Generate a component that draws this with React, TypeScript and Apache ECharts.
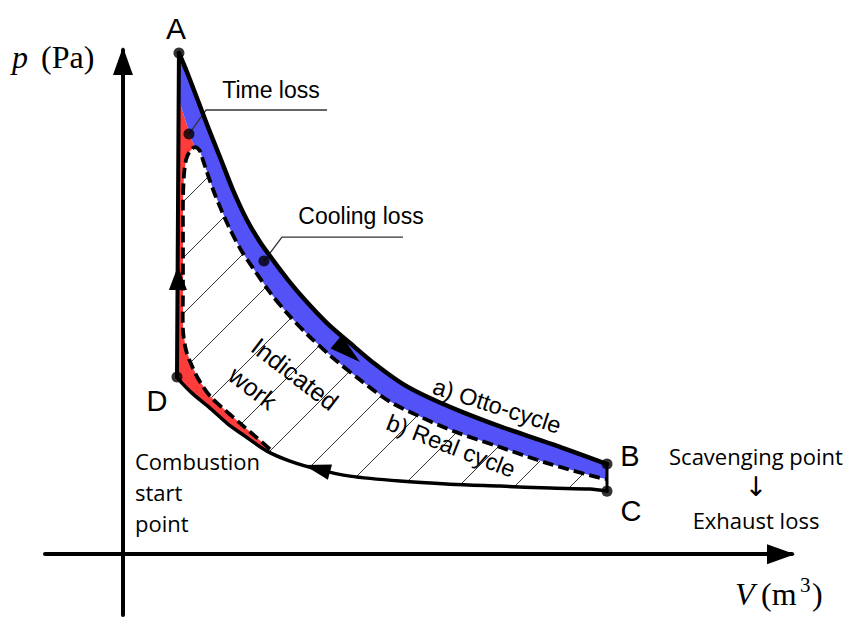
import React, { useEffect, useRef } from "react";
import * as echarts from "echarts";

// ---- Otto cycle: expansion A -> B (outer curve) ----
const ottoExpV = [8.33, 9.52, 11.01, 12.65, 14.43, 16.37, 18.45, 20.39, 22.32, 24.7, 27.23, 30.36, 33.78, 37.5, 41.67, 45.98, 50.89, 56.4, 63.84, 72.02];
const ottoExpP = [98.8, 95.05, 89.92, 84.2, 78.29, 71.78, 65.86, 61.53, 57.98, 53.84, 49.89, 45.55, 41.61, 37.47, 33.52, 30.57, 27.8, 25.04, 21.69, 17.75];

// ---- Otto cycle: compression (listed from D to C) ----
const compV = [8.04, 8.78, 10.27, 12.95, 15.63, 18.15, 21.43, 24.85, 28.87, 33.78, 41.22, 48.66, 56.1, 63.54, 69.49, 72.02];
const compP = [34.9, 33.72, 31.75, 28.79, 25.64, 23.27, 20.31, 18.34, 16.76, 15.38, 14.4, 13.8, 13.41, 13.02, 12.82, 12.42];
const COMP_MERGE = 6; // index where the real cycle joins the compression line

// ---- Real cycle (dashed): from the join near D, up, over the top, down to B' ----
const realV = [21.88, 19.64, 17.41, 15.18, 12.95, 11.31, 10.27, 9.38, 8.93, 8.93, 8.93, 8.93, 9.08, 9.38, 9.97, 10.71, 11.46, 11.9, 13.54, 15.63, 17.56, 19.35, 21.73, 24.4, 27.53, 31.1, 35.12, 39.58, 44.35, 49.55, 55.65, 63.1, 70.54, 72.02];
const realP = [20.71, 23.27, 25.83, 28.4, 31.16, 34.31, 37.07, 40.23, 44.17, 52.06, 61.92, 69.81, 74.74, 77.7, 79.47, 80.26, 79.47, 77.7, 71.39, 64.88, 59.95, 56.4, 51.86, 47.53, 43.19, 38.85, 34.51, 30.17, 27.02, 24.06, 21.3, 17.95, 15.18, 14.79];
const REAL_TOP = 15;

// ---- Time loss / cooling loss boundary (from real-curve top up to the isochore) ----
const tlBoundV = [10.12, 9.38, 8.33, 8.33];
const tlBoundP = [82.03, 85.19, 89.53, 95.84];

// ---- Isochores ----
const isoDAV = [8.04, 8.33];
const isoDAP = [34.9, 98.8];
const isoBCV = [72.02, 72.02];
const isoBCP = [17.75, 12.42];

// ---- State points ----
const pointNames = ["A", "B", "C", "D"];
const pointV = [8.33, 72.02, 72.02, 8.04];
const pointP = [98.8, 17.75, 12.42, 34.9];

// ---- Loss marker points and leaders ----
const lossV = [9.82, 20.98];
const lossP = [82.82, 57.78];
const timeLeaderV = [9.82, 12.35, 30.36];
const timeLeaderP = [82.82, 87.56, 87.56];
const coolLeaderV = [20.98, 23.66, 41.67];
const coolLeaderP = [57.78, 62.51, 62.51];

// ---- Direction arrows (tail -> tip) ----
const arrowTailV = [31.7, 30.8, 8.18];
const arrowTailP = [41.81, 16.17, 52.06];
const arrowTipV = [35.27, 26.93, 8.18];
const arrowTipP = [37.86, 17.55, 56.79];

const BLUE = "#5252F7";
const RED = "#FF3C3C";

function hatchSegments(poly: number[][], c0: number, step: number) {
  const sums = poly.map((p) => p[0] + p[1]);
  const minC = Math.min(...sums);
  const maxC = Math.max(...sums);
  const segs: number[][][] = [];
  const k0 = Math.ceil((minC - c0) / step);
  for (let c = c0 + k0 * step; c < maxC; c += step) {
    const hits: number[][] = [];
    for (let i = 0; i < poly.length; i++) {
      const a = poly[i];
      const b = poly[(i + 1) % poly.length];
      const fa = a[0] + a[1] - c;
      const fb = b[0] + b[1] - c;
      if (fa < 0 !== fb < 0) {
        const t = fa / (fa - fb);
        hits.push([a[0] + t * (b[0] - a[0]), a[1] + t * (b[1] - a[1])]);
      }
    }
    hits.sort((p, q) => p[0] - q[0]);
    for (let j = 0; j + 1 < hits.length; j += 2) segs.push([hits[j], hits[j + 1]]);
  }
  return segs;
}

export default function App() {
  const ref = useRef<HTMLDivElement>(null);
  useEffect(() => {
    const chart = echarts.init(ref.current!, null, { renderer: "svg" });
    const pts = (api: any, vs: number[], ps: number[]) => vs.map((v, i) => api.coord([v, ps[i]]));
    const pick = (api: any, vs: number[], ps: number[], idx: number[]) => idx.map((i) => api.coord([vs[i], ps[i]]));
    const range = (a: number, b: number) => {
      const r: number[] = [];
      if (a <= b) for (let i = a; i <= b; i++) r.push(i);
      else for (let i = a; i >= b; i--) r.push(i);
      return r;
    };

    const fillsRender = (_p: any, api: any) => {
      const otto = pts(api, ottoExpV, ottoExpP);
      const realBack = pick(api, realV, realP, range(realV.length - 1, REAL_TOP));
      const bound = pts(api, tlBoundV, tlBoundP);
      const blue = [...otto, ...realBack, ...bound];
      const redTop = pick(api, tlBoundV, tlBoundP, [2, 1, 0]);
      const redReal = pick(api, realV, realP, range(REAL_TOP, 0));
      const redComp = pick(api, compV, compP, range(COMP_MERGE, 0));
      const red = [...redTop, ...redReal, ...redComp];
      return {
        type: "group",
        children: [
          { type: "polygon", shape: { points: red }, style: { fill: RED } },
          { type: "polygon", shape: { points: blue }, style: { fill: BLUE } },
        ],
      };
    };

    const hatchRender = (_p: any, api: any) => {
      const real = pts(api, realV, realP);
      const comp = pick(api, compV, compP, range(compV.length - 1, COMP_MERGE));
      const poly = [...real, ...comp];
      const segs = hatchSegments(poly, 385, 56);
      return {
        type: "group",
        children: segs.map((s) => ({
          type: "line",
          shape: { x1: s[0][0], y1: s[0][1], x2: s[1][0], y2: s[1][1] },
          style: { stroke: "#333", lineWidth: 1 },
        })),
      };
    };

    const line = (points: number[][], width: number, extra: any = {}, smooth = 0.3) => ({
      type: "polyline",
      shape: { points, smooth },
      style: { stroke: "#000", lineWidth: width, fill: null, lineJoin: "round", lineCap: "round", ...extra },
    });

    const linesRender = (_p: any, api: any) => ({
      type: "group",
      children: [
        line(pts(api, timeLeaderV, timeLeaderP), 1.3, { stroke: "#333", lineCap: "butt" }, 0),
        line(pts(api, coolLeaderV, coolLeaderP), 1.3, { stroke: "#333", lineCap: "butt" }, 0),
        line(pts(api, realV, realP), 3.8, { lineDash: [11, 5], lineCap: "butt" }),
        line(pts(api, compV, compP), 3.5),
        line(pts(api, isoBCV, isoBCP), 3, {}, 0),
        line(pts(api, isoDAV, isoDAP), 4, {}, 0),
        line(pts(api, ottoExpV, ottoExpP), 4.5),
      ],
    });

    const halfW = [8.5, 8, 9];
    const arrowsRender = (_p: any, api: any) => ({
      type: "group",
      children: arrowTailV.map((_, i) => {
        const t = api.coord([arrowTailV[i], arrowTailP[i]]);
        const h = api.coord([arrowTipV[i], arrowTipP[i]]);
        const dx = h[0] - t[0];
        const dy = h[1] - t[1];
        const L = Math.hypot(dx, dy);
        const nx = -dy / L;
        const ny = dx / L;
        const w = halfW[i];
        return {
          type: "polygon",
          shape: { points: [h, [t[0] + nx * w, t[1] + ny * w], [t[0] - nx * w, t[1] - ny * w]] },
          style: { fill: "#000" },
        };
      }),
    });

    const axisLineBase = {
      onZero: true,
      symbol: ["none", "triangle"],
      symbolSize: [20, 28],
      symbolOffset: [0, -11],
      lineStyle: { color: "#000", width: 4 },
    };

    const sans = "'Liberation Sans', Arial, sans-serif";
    const segoe = "'Open Sans', 'Noto Sans', sans-serif";
    const serif = "'Liberation Serif', 'Times New Roman', serif";
    const txt = (text: string, x: number, y: number, size: number, family: string, align = "center", rotation = 0, extra: any = {}) => ({
      type: "text",
      x,
      y,
      rotation,
      z: 100,
      style: { text, fontSize: size, fontFamily: family, fill: "#000", textAlign: align, textVerticalAlign: "middle", ...extra },
    });

    const option: any = {
      animation: false,
      backgroundColor: "#fff",
      grid: { left: 45, right: 61, top: 50, bottom: 2 },
      xAxis: {
        type: "value",
        min: -11.6,
        max: 99.55,
        axisLine: axisLineBase,
        axisTick: { show: false },
        axisLabel: { show: false },
        splitLine: { show: false },
      },
      yAxis: {
        type: "value",
        min: -12,
        max: 99.39,
        axisLine: axisLineBase,
        axisTick: { show: false },
        axisLabel: { show: false },
        splitLine: { show: false },
      },
      series: [
        { type: "custom", name: "hatch", coordinateSystem: "cartesian2d", data: [[0, 0]], renderItem: hatchRender, z: 2, silent: true },
        { type: "custom", name: "losses", coordinateSystem: "cartesian2d", data: [[0, 0]], renderItem: fillsRender, z: 3, silent: true },
        { type: "custom", name: "cycles", coordinateSystem: "cartesian2d", data: [[0, 0]], renderItem: linesRender, z: 4, silent: true },
        { type: "custom", name: "arrows", coordinateSystem: "cartesian2d", data: [[0, 0]], renderItem: arrowsRender, z: 5, silent: true },
        {
          type: "scatter",
          name: "points",
          data: [...pointV.map((v, i) => [v, pointP[i]]), ...lossV.map((v, i) => [v, lossP[i]])],
          symbolSize: 11,
          itemStyle: { color: "#000" },
          z: 6,
          silent: true,
        },
      ],
      graphic: [
        txt(pointNames[0], 176, 28, 30, sans),
        txt(pointNames[1], 630, 456, 29, sans),
        txt(pointNames[2], 631, 511, 29, sans),
        txt(pointNames[3], 157, 401, 29, sans),
        txt("Time loss", 271, 90, 23, sans),
        txt("Cooling loss", 361, 216, 23, sans),
        txt("Indicated", 295, 374, 25, sans, "center", -0.655),
        txt("work", 253, 388, 25, sans, "center", -0.655),
        txt("a) Otto-cycle", 497, 406, 23.5, sans, "center", -0.31),
        txt("b) Real cycle", 451, 446, 23.5, sans, "center", -0.37),
        txt("Scavenging point", 756, 456, 22, segoe),
        txt("↓", 756, 486, 27, "'DejaVu Sans', sans-serif"),
        txt("Exhaust loss", 756, 520, 22, segoe),
        txt("Combustion", 135, 461, 22, segoe, "left"),
        txt("start", 135, 492, 22, segoe, "left"),
        txt("point", 135, 523, 22, segoe, "left"),
        txt("p", 12, 57, 32, serif, "left", 0, { fontStyle: "italic" }),
        txt("(Pa)", 41, 57, 32, serif, "left"),
        txt("V", 735, 594, 32, serif, "left", 0, { fontStyle: "italic" }),
        txt("(m", 761, 594, 32, serif, "left"),
        txt("3", 800, 585, 21, serif, "left"),
        txt(")", 812, 594, 32, serif, "left"),
      ],
    };
    chart.setOption(option);
    return () => chart.dispose();
  }, []);
  return <div ref={ref} style={{ position: "absolute", left: 0, top: 0, width: 853, height: 617, background: "#fff" }} />;
}
